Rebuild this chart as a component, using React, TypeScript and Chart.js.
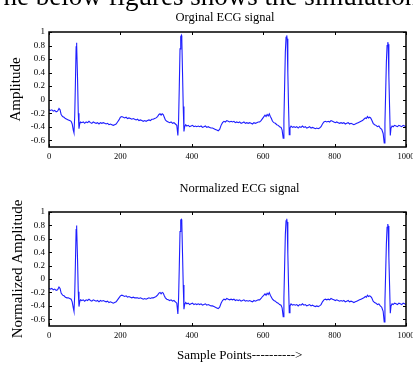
import React, { useEffect, useRef } from "react";
import { Chart, registerables } from "chart.js";

Chart.register(...registerables);

// Sample positions (shared by both traces)
const sampleIdx: number[] = [
  0, 4, 8, 12, 16, 20, 24, 28, 31, 34, 38, 42, 46, 50, 54, 58, 62, 65,
  68, 70, 72, 74, 76, 77, 78, 80, 82, 84, 86, 88,
  92, 96, 100, 104, 108, 112, 116, 120, 124, 128, 132, 136, 140, 144, 148, 152, 156, 160, 164, 168, 172, 176, 180, 184, 188,
  192, 196, 200, 204, 208, 212, 216, 220, 224, 228, 232, 236, 240, 244, 248, 252, 256, 260, 264, 268, 272, 276, 280, 284, 288, 292, 296, 300,
  304, 308, 311, 314, 317, 320, 323, 326, 330, 334, 338, 342, 346, 350, 354, 358,
  361, 363, 365, 367, 369, 371, 372, 374, 376, 378, 380, 383,
  386, 390, 394, 398, 402, 406, 410, 414, 418, 422, 426, 430, 434, 438, 442, 446, 450, 454, 458, 462, 466, 470, 474, 478,
  482, 486, 490, 494, 498, 502, 506, 510, 514, 518, 522, 526, 530, 534, 538, 542, 546, 550, 554, 558, 562, 566, 570, 574, 578, 582, 586, 590, 594, 598,
  602, 605, 608, 611, 614, 617, 620, 623, 626, 630, 634, 638, 642, 646, 650, 653,
  656, 658, 660, 662, 664, 666, 667, 669, 671, 673, 675, 678,
  682, 686, 690, 694, 698, 702, 706, 710, 714, 718, 722, 726, 730, 734, 738, 742, 746, 750, 754, 758,
  762, 766, 770, 774, 778, 782, 786, 790, 794, 798, 802, 806, 810, 814, 818, 822, 826, 830, 834, 838, 842, 846, 850, 854, 858, 862, 866, 870, 874, 878, 882, 886,
  889, 892, 895, 898, 901, 904, 908, 912, 916, 920, 924, 928, 932, 936,
  939, 941, 943, 945, 947, 949, 950, 952, 954, 956, 958, 961,
  964, 968, 972, 976, 980, 984, 988, 992, 996, 1000,
];

// Original ECG amplitude
const originalAmp: number[] = [
  -0.15, -0.16, -0.15, -0.17, -0.16, -0.18, -0.17, -0.13, -0.15, -0.22, -0.25, -0.26, -0.28, -0.29, -0.30, -0.31, -0.32, -0.36,
  -0.45, -0.49, -0.25, 0.25, 0.78, 0.84, 0.80, 0.30, -0.20, -0.43, -0.36, -0.33,
  -0.34, -0.33, -0.35, -0.33, -0.34, -0.32, -0.34, -0.35, -0.33, -0.34, -0.35, -0.34, -0.36, -0.34, -0.35, -0.34, -0.35, -0.36, -0.35, -0.37, -0.36, -0.37, -0.38, -0.37, -0.36,
  -0.33, -0.30, -0.26, -0.25, -0.26, -0.27, -0.26, -0.28, -0.27, -0.28, -0.29, -0.28, -0.29, -0.30, -0.29, -0.31, -0.30, -0.31, -0.32, -0.31, -0.32, -0.31, -0.30, -0.31, -0.29, -0.29, -0.28, -0.27,
  -0.25, -0.22, -0.21, -0.23, -0.21, -0.22, -0.26, -0.30, -0.32, -0.33, -0.34, -0.33, -0.35, -0.34, -0.36, -0.38,
  -0.53, -0.30, 0.20, 0.75, 0.93, 0.95, 0.90, 0.40, -0.10, -0.47, -0.40, -0.37,
  -0.39, -0.38, -0.40, -0.39, -0.38, -0.40, -0.39, -0.40, -0.39, -0.40, -0.39, -0.41, -0.40, -0.39, -0.41, -0.40, -0.41, -0.42, -0.42, -0.43, -0.44, -0.45, -0.46, -0.44,
  -0.38, -0.34, -0.32, -0.33, -0.31, -0.32, -0.33, -0.32, -0.33, -0.32, -0.34, -0.33, -0.34, -0.33, -0.35, -0.34, -0.33, -0.35, -0.34, -0.35, -0.34, -0.35, -0.36, -0.34, -0.35, -0.34, -0.33, -0.33, -0.31, -0.28,
  -0.25, -0.23, -0.25, -0.22, -0.24, -0.21, -0.25, -0.28, -0.32, -0.34, -0.35, -0.37, -0.38, -0.40, -0.41, -0.45,
  -0.57, -0.30, 0.20, 0.70, 0.92, 0.95, 0.90, 0.40, -0.10, -0.52, -0.42, -0.39,
  -0.41, -0.40, -0.41, -0.40, -0.42, -0.40, -0.41, -0.39, -0.41, -0.40, -0.42, -0.41, -0.40, -0.42, -0.41, -0.42, -0.43, -0.42, -0.43, -0.42,
  -0.40, -0.36, -0.33, -0.32, -0.33, -0.32, -0.33, -0.31, -0.32, -0.33, -0.34, -0.33, -0.34, -0.35, -0.34, -0.35, -0.34, -0.36, -0.35, -0.34, -0.36, -0.35, -0.36, -0.37, -0.36, -0.35, -0.34, -0.33, -0.32, -0.31, -0.29, -0.27,
  -0.28, -0.25, -0.27, -0.26, -0.27, -0.30, -0.35, -0.37, -0.38, -0.40, -0.39, -0.42, -0.44, -0.50,
  -0.64, -0.35, 0.10, 0.55, 0.80, 0.85, 0.82, 0.35, -0.10, -0.53, -0.42, -0.39,
  -0.40, -0.38, -0.39, -0.40, -0.38, -0.39, -0.40, -0.38, -0.39, -0.40,
];

// Normalized ECG amplitude
const normalizedAmp: number[] = [
  -0.14, -0.15, -0.14, -0.16, -0.15, -0.17, -0.16, -0.12, -0.14, -0.21, -0.24, -0.25, -0.27, -0.28, -0.28, -0.29, -0.30, -0.34,
  -0.43, -0.48, -0.24, 0.24, 0.74, 0.80, 0.76, 0.28, -0.19, -0.41, -0.34, -0.31,
  -0.32, -0.31, -0.33, -0.31, -0.32, -0.30, -0.32, -0.33, -0.31, -0.32, -0.33, -0.32, -0.34, -0.32, -0.33, -0.32, -0.33, -0.34, -0.33, -0.35, -0.34, -0.35, -0.36, -0.35, -0.34,
  -0.31, -0.28, -0.25, -0.24, -0.25, -0.26, -0.25, -0.27, -0.26, -0.27, -0.28, -0.27, -0.28, -0.28, -0.28, -0.29, -0.28, -0.29, -0.30, -0.29, -0.30, -0.29, -0.28, -0.29, -0.28, -0.28, -0.27, -0.26,
  -0.24, -0.21, -0.20, -0.22, -0.20, -0.21, -0.25, -0.28, -0.30, -0.31, -0.32, -0.31, -0.33, -0.32, -0.34, -0.36,
  -0.52, -0.28, 0.19, 0.71, 0.88, 0.89, 0.85, 0.38, -0.09, -0.45, -0.38, -0.35,
  -0.37, -0.36, -0.38, -0.37, -0.36, -0.38, -0.37, -0.38, -0.37, -0.38, -0.37, -0.39, -0.38, -0.37, -0.39, -0.38, -0.39, -0.40, -0.40, -0.41, -0.42, -0.43, -0.44, -0.42,
  -0.36, -0.32, -0.30, -0.31, -0.29, -0.30, -0.31, -0.30, -0.31, -0.30, -0.32, -0.31, -0.32, -0.31, -0.33, -0.32, -0.31, -0.33, -0.32, -0.33, -0.32, -0.33, -0.34, -0.32, -0.33, -0.32, -0.31, -0.31, -0.29, -0.26,
  -0.24, -0.22, -0.24, -0.21, -0.23, -0.20, -0.24, -0.27, -0.30, -0.32, -0.33, -0.35, -0.36, -0.38, -0.39, -0.43,
  -0.56, -0.28, 0.19, 0.66, 0.87, 0.90, 0.85, 0.38, -0.09, -0.50, -0.40, -0.37,
  -0.39, -0.38, -0.39, -0.38, -0.40, -0.38, -0.39, -0.37, -0.39, -0.38, -0.40, -0.39, -0.38, -0.40, -0.39, -0.40, -0.41, -0.40, -0.41, -0.40,
  -0.38, -0.34, -0.31, -0.30, -0.31, -0.30, -0.31, -0.29, -0.30, -0.31, -0.32, -0.31, -0.32, -0.33, -0.32, -0.33, -0.32, -0.34, -0.33, -0.32, -0.34, -0.33, -0.34, -0.35, -0.34, -0.33, -0.32, -0.31, -0.30, -0.29, -0.28, -0.26,
  -0.27, -0.24, -0.26, -0.25, -0.26, -0.28, -0.33, -0.35, -0.36, -0.38, -0.37, -0.40, -0.42, -0.48,
  -0.64, -0.33, 0.09, 0.52, 0.77, 0.82, 0.79, 0.33, -0.09, -0.51, -0.40, -0.37,
  -0.38, -0.36, -0.37, -0.38, -0.36, -0.37, -0.38, -0.36, -0.37, -0.38,
];

const xTickValues: number[] = [0, 200, 400, 600, 800, 1000];
const xTickLabels: string[] = ["0", "200", "400", "600", "800", "1000"];
const yTickValues: number[] = [-0.6, -0.4, -0.2, 0, 0.2, 0.4, 0.6, 0.8, 1];
const yTickLabels: string[] = ["-0.6", "-0.4", "-0.2", "0", "0.2", "0.4", "0.6", "0.8", "1"];

const SERIF = "'Liberation Serif', 'Times New Roman', serif";

const framePlugin = {
  id: "frameTicks",
  afterDraw(chart: any) {
    const { ctx, chartArea } = chart;
    const { left, right, top, bottom } = chartArea;
    const xs = chart.scales.x;
    const ys = chart.scales.y;
    ctx.save();
    ctx.strokeStyle = "#000";
    ctx.lineWidth = 1;
    ctx.beginPath();
    xTickValues.forEach((v) => {
      const px = Math.round(xs.getPixelForValue(v)) + 0.5;
      ctx.moveTo(px, bottom);
      ctx.lineTo(px, bottom - 3);
      ctx.moveTo(px, top);
      ctx.lineTo(px, top + 3);
    });
    yTickValues.forEach((v) => {
      const py = Math.round(ys.getPixelForValue(v)) + 0.5;
      ctx.moveTo(left, py);
      ctx.lineTo(left + 3, py);
      ctx.moveTo(right, py);
      ctx.lineTo(right - 3, py);
    });
    ctx.stroke();
    ctx.lineWidth = 1.5;
    ctx.strokeRect(left, top, right - left, bottom - top);
    ctx.restore();
  },
};

function makeConfig(values: number[], yTitle: string, padTop: number, xAxisHeight: number, titlePad: number) {
  return {
    type: "line" as const,
    data: {
      datasets: [
        {
          data: sampleIdx.map((x, i) => ({ x, y: values[i] })),
          borderColor: "rgb(30,30,255)",
          borderWidth: 1.1,
          pointRadius: 0,
          tension: 0,
          fill: false,
        },
      ],
    },
    options: {
      animation: false as const,
      responsive: false,
      layout: { padding: { top: padTop, right: 7, left: 0, bottom: 0 } },
      plugins: {
        legend: { display: false },
        tooltip: { enabled: false },
        title: { display: false },
      },
      scales: {
        x: {
          type: "linear" as const,
          min: 0,
          max: 1000,
          afterBuildTicks: (s: any) => {
            s.ticks = xTickValues.map((v) => ({ value: v }));
          },
          afterFit: (s: any) => {
            s.height = xAxisHeight;
            s.paddingLeft = 0;
            s.paddingRight = 0;
          },
          ticks: {
            autoSkip: false,
            maxRotation: 0,
            padding: 5,
            color: "#000",
            font: { family: SERIF, size: 8.5 },
            callback: (v: any) => {
              const i = xTickValues.indexOf(Number(v));
              return i >= 0 ? xTickLabels[i] : "";
            },
          },
          grid: { display: false, drawTicks: false },
          border: { display: false },
        },
        y: {
          type: "linear" as const,
          min: -0.7,
          max: 1,
          afterBuildTicks: (s: any) => {
            s.ticks = yTickValues.map((v) => ({ value: v }));
          },
          afterFit: (s: any) => {
            s.width = 49;
          },
          ticks: {
            autoSkip: false,
            padding: 4,
            color: "#000",
            font: { family: SERIF, size: 9 },
            callback: (v: any) => {
              const i = yTickValues.findIndex((t) => Math.abs(t - Number(v)) < 1e-6);
              return i >= 0 ? yTickLabels[i] : "";
            },
          },
          title: {
            display: true,
            text: yTitle,
            color: "#000",
            font: { family: SERIF, size: 15 },
            padding: { top: titlePad, bottom: 0 },
          },
          grid: { display: false, drawTicks: false },
          border: { display: false },
        },
      },
    },
    plugins: [framePlugin],
  };
}

export default function App() {
  const topRef = useRef<HTMLCanvasElement | null>(null);
  const botRef = useRef<HTMLCanvasElement | null>(null);

  useEffect(() => {
    const c1 = new Chart(topRef.current as HTMLCanvasElement, makeConfig(originalAmp, "Amplitude", 32, 28, 7) as any);
    const c2 = new Chart(botRef.current as HTMLCanvasElement, makeConfig(normalizedAmp, "Normalized Amplitude", 37, 39, 9) as any);
    return () => {
      c1.destroy();
      c2.destroy();
    };
  }, []);

  const textBase: React.CSSProperties = {
    position: "absolute",
    fontFamily: SERIF,
    color: "#000",
    whiteSpace: "nowrap",
    margin: 0,
  };

  return (
    <div
      style={{
        position: "absolute",
        left: 0,
        top: 0,
        width: 413,
        height: 365,
        overflow: "hidden",
        background: "#fff",
      }}
    >
      <canvas ref={topRef} width={413} height={175} style={{ position: "absolute", left: 0, top: 0, width: 413, height: 175 }} />
      <canvas ref={botRef} width={413} height={190} style={{ position: "absolute", left: 0, top: 175, width: 413, height: 190 }} />
      <div style={{ ...textBase, left: -13, top: -16.6, fontSize: 27, lineHeight: "27px" }}>
        The below figures shows the simulation
      </div>
      <div style={{ ...textBase, left: 225, top: 10.5, fontSize: 12.5, lineHeight: "12.5px", transform: "translateX(-50%)" }}>
        Orginal ECG signal
      </div>
      <div style={{ ...textBase, left: 239.5, top: 181.5, fontSize: 12.5, lineHeight: "12.5px", transform: "translateX(-50%)" }}>
        Normalized ECG signal
      </div>
      <div style={{ ...textBase, left: 177, top: 348, fontSize: 13, lineHeight: "13px" }}>
        Sample Points----------&gt;
      </div>
    </div>
  );
}
